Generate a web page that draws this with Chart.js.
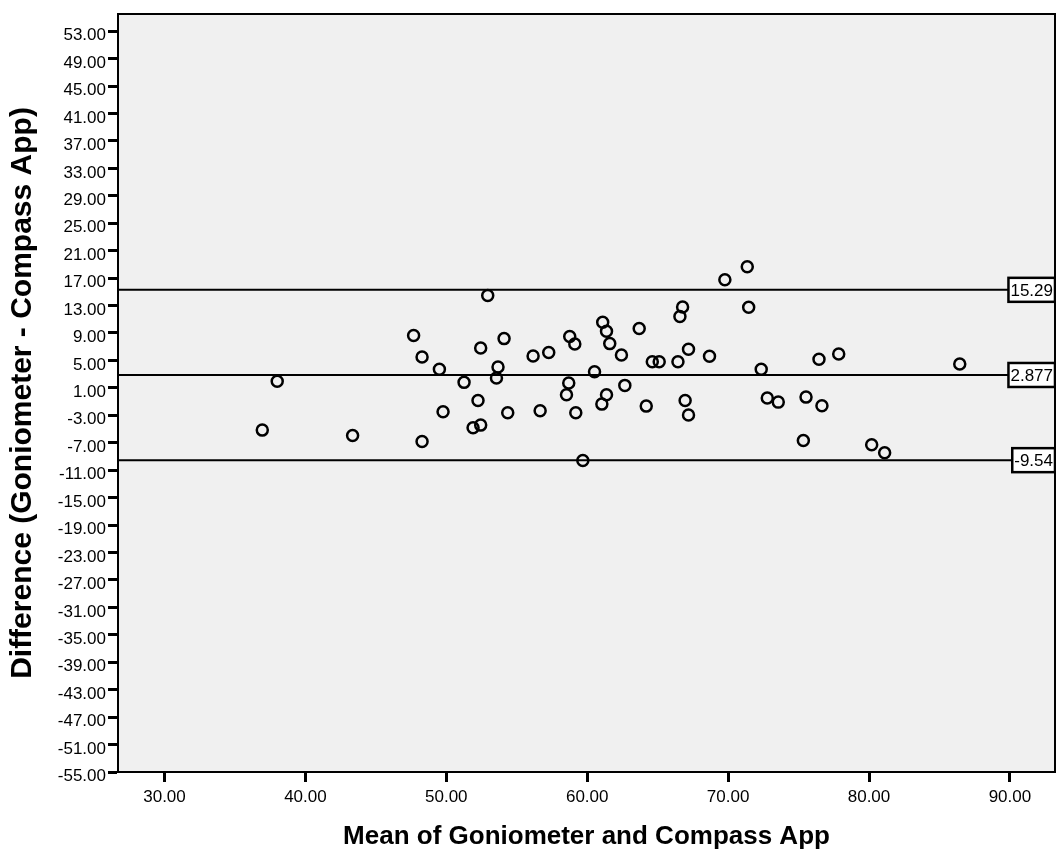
<!DOCTYPE html>
<html>
<head>
<meta charset="utf-8">
<title>Bland-Altman: Goniometer vs Compass App</title>
<script src="https://cdn.jsdelivr.net/npm/chart.js@4.4.1/dist/chart.umd.min.js"></script>
<style>
  html, body { margin: 0; padding: 0; background: #fff; overflow: hidden; }
  canvas { display: block; }
</style>
</head>
<body>
<canvas id="baChart" width="1056" height="850"></canvas>
<script>
// mean of the two methods (x) and their difference (y), one entry per subject
var meanVals = [36.94, 38.00, 43.35, 47.68, 48.28, 48.28, 49.51, 49.77, 51.26, 51.90,
                52.25, 52.44, 52.44, 52.94, 53.56, 53.67, 54.10, 54.36, 56.16, 56.66,
                57.27, 58.53, 58.69, 58.76, 59.12, 59.19, 59.69, 60.52, 61.04, 61.10,
                61.37, 61.37, 61.60, 62.43, 62.67, 63.69, 64.19, 64.62, 65.11, 66.44,
                66.58, 66.77, 66.95, 67.19, 67.19, 68.68, 69.77, 71.36, 71.46, 72.35,
                72.78, 73.56, 75.34, 75.53, 76.45, 76.66, 77.85, 80.19, 81.11, 86.44];
var diffVals = [-5.16, 1.95, -5.94, 8.62, 5.50, -6.82, 3.70, -2.48, 1.80, -4.82,
                -0.83, 6.81, -4.43, 14.47, 2.43, 4.04, 8.18, -2.63, 5.64, -2.33,
                6.14, 0.00, 1.70, 8.48, 7.40, -2.63, -9.60, 3.36, -1.37, 10.57,
                9.25, 0.00, 7.45, 5.79, 1.36, 9.64, -1.66, 4.82, 4.82, 4.82,
                11.40, 12.80, -0.83, 6.62, -2.97, 5.60, 16.75, 18.64, 12.76, 3.70,
                -0.49, -1.08, -6.67, -0.35, 5.16, -1.60, 5.94, -7.30, -8.47, 4.47];

// upper limit, mean difference, lower limit
var limitVals = [15.29, 2.877, -9.54];
var limitLabels = ['15.29', '2.877', '-9.54'];

var xTicks = [30, 40, 50, 60, 70, 80, 90];
var yTicks = [53, 49, 45, 41, 37, 33, 29, 25, 21, 17, 13, 9, 5, 1, -3, -7, -11, -15,
              -19, -23, -27, -31, -35, -39, -43, -47, -51, -55];

var xMin = 26.7, xMax = 93.2;
var yMin = -55, yMax = 55.5;

Chart.defaults.font.family = 'Arial, "Liberation Sans", sans-serif';
Chart.defaults.color = '#000';

var points = meanVals.map(function(m, i) { return { x: m, y: diffVals[i] }; });

var lineSets = limitVals.map(function(v) {
  return {
    type: 'line',
    data: [{ x: xMin, y: v }, { x: xMax, y: v }],
    borderColor: '#000',
    borderWidth: 2,
    pointRadius: 0,
    fill: false,
    order: 2
  };
});

var plotFrame = {
  id: 'plotFrame',
  beforeDraw: function(chart) {
    var c = chart.ctx, a = chart.chartArea;
    c.save();
    c.fillStyle = '#fff';
    c.fillRect(0, 0, chart.width, chart.height);
    c.fillStyle = '#f0f0f0';
    c.fillRect(a.left, a.top, a.right - a.left, a.bottom - a.top);
    c.restore();
  },
  afterDatasetsDraw: function(chart) {
    var c = chart.ctx, a = chart.chartArea;
    var ys = chart.scales.y;
    c.save();
    c.font = '17px Arial, "Liberation Sans", sans-serif';
    c.textBaseline = 'middle';
    c.textAlign = 'left';
    limitVals.forEach(function(v, i) {
      var y = ys.getPixelForValue(v);
      var w = c.measureText(limitLabels[i]).width + 4;
      var x0 = a.right - w;
      c.fillStyle = '#fff';
      c.fillRect(x0, y - 12, w, 24);
      c.lineWidth = 2.5;
      c.strokeStyle = '#000';
      c.strokeRect(x0, y - 12, w, 24);
      c.fillStyle = '#000';
      c.fillText(limitLabels[i], x0 + 2, y + 1);
    });
    c.lineWidth = 2;
    c.strokeStyle = '#000';
    c.strokeRect(a.left, a.top, a.right - a.left, a.bottom - a.top);
    c.restore();
  }
};

new Chart(document.getElementById('baChart'), {
  type: 'scatter',
  data: {
    datasets: [{
      data: points,
      pointStyle: 'circle',
      pointRadius: 5.5,
      pointBorderWidth: 2.5,
      borderColor: '#000',
      backgroundColor: 'rgba(0,0,0,0)',
      order: 1
    }].concat(lineSets)
  },
  plugins: [plotFrame],
  options: {
    responsive: false,
    animation: false,
    events: [],
    layout: { autoPadding: false, padding: { top: 14, right: 1, left: 0, bottom: 0 } },
    plugins: { legend: { display: false }, tooltip: { enabled: false } },
    scales: {
      x: {
        type: 'linear',
        min: xMin,
        max: xMax,
        afterBuildTicks: function(s) { s.ticks = xTicks.map(function(v) { return { value: v }; }); },
        afterFit: function(s) { s.height = 78; s.paddingLeft = 0; s.paddingRight = 0; },
        grid: { drawOnChartArea: false, drawTicks: true, tickLength: 10, tickWidth: 3, tickColor: '#000' },
        border: { display: true, color: '#000', width: 2 },
        ticks: {
          padding: 5,
          maxRotation: 0,
          font: { size: 17 },
          callback: function(v) { return Number(v).toFixed(2); }
        },
        title: {
          display: true,
          text: 'Mean of Goniometer and Compass App',
          font: { size: 26, weight: 'bold', lineHeight: 1.0 },
          padding: { top: 0, bottom: 0 }
        }
      },
      y: {
        type: 'linear',
        min: yMin,
        max: yMax,
        afterBuildTicks: function(s) { s.ticks = yTicks.map(function(v) { return { value: v }; }); },
        afterFit: function(s) { s.width = 118; },
        grid: { drawOnChartArea: false, drawTicks: true, tickLength: 10, tickWidth: 3, tickColor: '#000' },
        border: { display: true, color: '#000', width: 2 },
        ticks: {
          padding: 2,
          labelOffset: 4.5,
          autoSkip: false,
          font: { size: 17 },
          callback: function(v) { return Number(v).toFixed(2); }
        },
        title: {
          display: true,
          text: 'Difference (Goniometer - Compass App)',
          font: { size: 30, weight: 'bold', lineHeight: 1.2 },
          padding: { top: 5, bottom: 0 }
        }
      }
    }
  }
});
</script>
</body>
</html>
